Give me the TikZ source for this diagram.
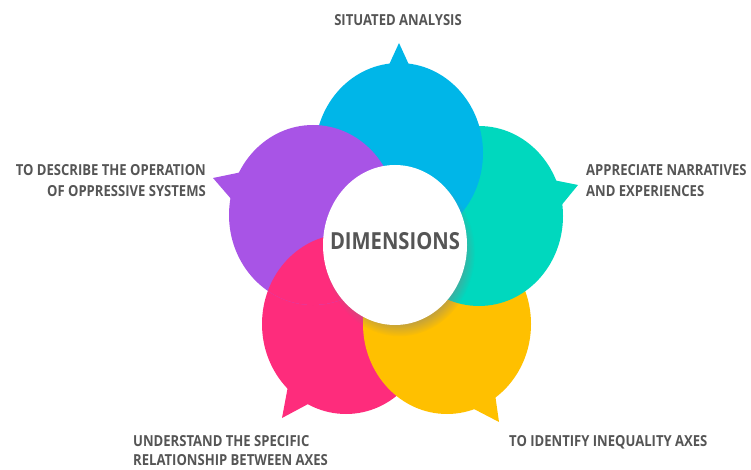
\documentclass[tikz,border=0pt]{standalone}
\usepackage{fontspec}
\setmainfont{Open Sans}[FakeStretch=0.86]
\usetikzlibrary{shadows,fadings}
\definecolor{bubbleblue}{RGB}{0,182,232}
\definecolor{bubblepurple}{RGB}{168,84,230}
\definecolor{bubbleteal}{RGB}{0,216,190}
\definecolor{bubblepink}{RGB}{254,44,124}
\definecolor{bubbleyellow}{RGB}{255,192,0}
\definecolor{labelgray}{RGB}{85,85,85}
\begin{document}
\begin{tikzpicture}[x=1pt,y=-1pt,
    bub/.style={x radius=84pt,y radius=90pt},
    lbl/.style={inner sep=0,text=labelgray,font=\fontsize{15.2}{21}\selectfont\bfseries}]
\useasboundingbox (0,0) rectangle (751,470);
\coordinate (bl) at (399,153);
\coordinate (pu) at (313,215);
\coordinate (te) at (479,216);
\coordinate (pi) at (346,324);
\coordinate (ye) at (447,324);
\coordinate (ce) at (395,245);
\fill[bubblepink] (pi) ellipse[bub];
\fill[bubblepink] (288,386)--(282,418)--(310,403)--cycle;
\fill[bubbleyellow] (ye) ellipse[bub];
\fill[bubbleyellow] (472,408)--(499,422)--(495,394)--cycle;
\fill[bubbleteal] (te) ellipse[bub];
\fill[bubbleteal] (553,180)--(578,185)--(560,207)--cycle;
\fill[bubbleblue] (bl) ellipse[bub];
\fill[bubbleblue] (388,67)--(399,43)--(410,67)--cycle;
\fill[bubblepurple] (pu) ellipse[bub];
\fill[bubblepurple] (242,172)--(213,178)--(232,200)--cycle;
\begin{scope}
\clip (pu) ellipse[bub];
\fill[bubblepink] (pi) ellipse[bub];
\end{scope}
\fill[white,circular drop shadow={shadow xshift=4pt,shadow yshift=-7pt,opacity=0.45,shadow scale=1.05}]
    (ce) ellipse[x radius=72pt,y radius=80pt];
\node[lbl,font=\fontsize{23.5}{26}\selectfont\bfseries] (dim) at (395,241) {DIMENSIONS};
\node[lbl] (sit) at (398,20) {SITUATED ANALYSIS};
\node[lbl,anchor=north east,align=right] (opp) at (206,164) {TO DESCRIBE THE OPERATION\\OF OPPRESSIVE SYSTEMS};
\node[lbl,anchor=north west,align=left] (nar) at (586,164) {APPRECIATE NARRATIVES\\AND EXPERIENCES};
\node[lbl,anchor=north west,align=left,font=\fontsize{15.2}{19.5}\selectfont\bfseries] (rel) at (133,435) {UNDERSTAND THE SPECIFIC\\RELATIONSHIP BETWEEN AXES};
\node[lbl,anchor=north west] (ine) at (509,435) {TO IDENTIFY INEQUALITY AXES};
\end{tikzpicture}
\end{document}
